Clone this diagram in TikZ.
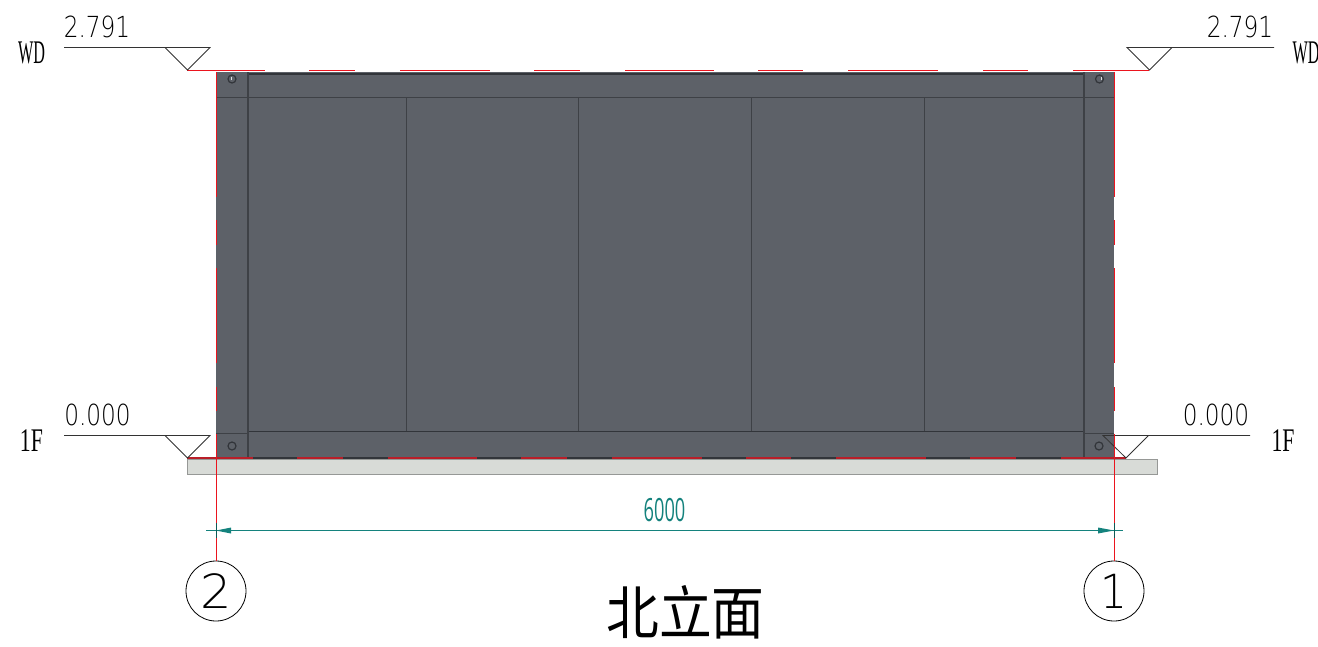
\documentclass[tikz,border=0pt]{standalone}
\usepackage{fontspec}
\usepackage{graphicx}
\setmainfont{DejaVu Sans ExtraLight}
\newfontfamily\cjk{Noto Sans CJK SC}
\newfontfamily\serifcad{Liberation Serif}
\newfontfamily\dimfont{Open Sans}
\definecolor{panel}{RGB}{93,97,104}
\definecolor{edge}{RGB}{50,53,58}
\definecolor{softedge}{RGB}{62,65,70}
\definecolor{dimc}{RGB}{20,130,125}
\definecolor{slab}{RGB}{216,219,215}
\definecolor{slabedge}{RGB}{150,152,150}
\definecolor{axisred}{RGB}{235,20,30}
\definecolor{darkred}{RGB}{185,30,40}
\tikzset{
  panelline/.style={draw=softedge,line width=1.1pt},
  redline/.style={draw=axisred,line width=1pt},
  redbase/.style={draw=darkred,line width=1.3pt},
  axisline/.style={draw=axisred,line width=1pt},
  levelline/.style={draw=black!80,line width=0.8pt},
  levelnum/.style={inner sep=0pt,anchor=south,font=\fontsize{29}{29}\selectfont},
  levelname/.style={inner sep=0pt,font=\serifcad\fontsize{33}{33}\selectfont},
  axisbubble/.style={circle,draw=black,line width=0.8pt,minimum size=60pt,inner sep=0pt,font=\fontsize{47}{47}\selectfont},
  bolt/.style={circle,draw=edge,line width=1.2pt,fill=panel,minimum width=7pt,minimum height=8pt,inner sep=0pt},
  dimline/.style={draw=dimc,line width=1pt}
}
\newcommand{\thinx}[1]{\scalebox{0.8}[1]{#1}}
\newcommand{\wdx}[1]{\scalebox{0.49}[1]{#1}}
\newcommand{\ffx}[1]{\scalebox{0.66}[1]{#1}}
\begin{document}
\begin{tikzpicture}[x=1pt,y=-1pt]
\useasboundingbox (0,0) rectangle (1318,646);
% slab
\node[draw=slabedge,fill=slab,line width=1.2pt,minimum width=970pt,minimum height=15pt,inner sep=0pt,anchor=north west] (slab) at (187,459) {};
% panel
\node[fill=panel,minimum width=898pt,minimum height=386pt,inner sep=0pt,anchor=north west] (wall) at (216,72) {};
\draw[draw=edge,line width=2pt] (248,74) -- (1084,74);
\draw[panelline] (216,97.5) -- (1114,97.5);
\draw[draw=edge,line width=1.6pt] (248,431.5) -- (1084,431.5);
\draw[panelline] (216,433.5) -- (248,433.5) (1084,433.5) -- (1114,433.5);
\draw[draw=edge,line width=1.2pt] (248,458) -- (1084,458);
\foreach \x in {248,1084} \draw[panelline] (\x,72) -- (\x,458);
\foreach \x in {406.5,578.5,751.5,924.5} \draw[panelline] (\x,97) -- (\x,431);
% bolts
\node[bolt] (b1) at (232,79) {};
\fill[white!80!panel] (230.5,77) rectangle (232,80);
\node[bolt] (b2) at (1099.5,79) {};
\fill[white!80!panel] (1100.5,77) rectangle (1102,80);
\node[bolt] (b3) at (232,446) {};
\node[bolt] (b4) at (1099,446) {};
% red top and bottom dashes
\foreach \a/\b in {187/265,309/355,400/490,534/580,625/714,758/803,848/938,983/1028,1073/1149}
  \draw[redline] (\a,70.5) -- (\b,70.5);
\foreach \a/\b in {187/253,297/343,388/477,521/567,612/702,746/791,836/926,970/1016,1061/1126}
  \draw[redbase] (\a,458) -- (\b,458);
% levels
\coordinate (tl1) at (64,47.5);\coordinate (tl2) at (210,47.5);\coordinate (tlp) at (187.5,70);
\coordinate (tr1) at (1274,47.5);\coordinate (tr2) at (1127,47.5);\coordinate (trp) at (1149.5,70);
\coordinate (bl1) at (64,435.5);\coordinate (bl2) at (210,435.5);\coordinate (blp) at (187.5,458);
\coordinate (br1) at (1250,435.5);\coordinate (br2) at (1103,435.5);\coordinate (brp) at (1126,458);
\draw[levelline] (tl1) -- (tl2) -- (tlp) -- ++(-22.5,-22.5);
\draw[levelline] (tr1) -- (tr2) -- (trp) -- ++(22.5,-22.5);
\draw[levelline] (bl1) -- (bl2) -- (blp) -- ++(-22.5,-22.5);
\draw[levelline] (br1) -- (br2) -- (brp) -- ++(22.5,-22.5);
\node[levelnum] (t1) at (97,38.5) {\thinx{2.791}};
\node[levelnum] (t2) at (1240,38.5) {\thinx{2.791}};
\node[levelnum] (t3) at (97.5,426) {\thinx{0.000}};
\node[levelnum] (t4) at (1216,426) {\thinx{0.000}};
\node[levelname] (n1) at (31.5,53) {\wdx{WD}};
\node[levelname] (n2) at (1306,53) {\wdx{WD}};
\node[levelname] (n3) at (31.5,441) {\ffx{1F}};
\node[levelname] (n4) at (1283,441) {\ffx{1F}};
% bubbles
\node[axisbubble] (ax2) at (216,591) {\scalebox{1.05}[1]{2}};
\node[axisbubble] (ax1) at (1114,591) {\scalebox{0.9}[1]{1}};
% axes: long dashes along the wall, then solid down to the bubbles
\foreach \a/\b in {72/197,220/245,268/363,387/411}{
  \draw[axisline] (216,\a) -- (216,\b);
  \draw[axisline] (1114,\a) -- (1114,\b);
}
\draw[axisline] (216,434) -- (ax2.north);
\draw[axisline] (1114,434) -- (ax1.north);
% dimension
\coordinate (d1) at (206,530.5);\coordinate (d2) at (1123,530.5);
\draw[dimline] (d1) -- (d2);
\fill[dimc] (216,530.5) -- (231,527.5) -- (231,533.5) -- cycle;
\fill[dimc] (1114,530.5) -- (1098,527.5) -- (1098,533.5) -- cycle;
\draw[dimc!70!black,line width=1pt] (216,523) -- (216,538) (1114,523) -- (1114,538);
\node[text=dimc,inner sep=0pt,font=\dimfont\fontsize{32}{32}\selectfont] (dim) at (664.5,510) {\scalebox{0.57}[1]{6000}};
% title
\node[inner sep=0pt,font=\cjk\fontsize{58}{58}\selectfont] (title) at (685.5,612) {\scalebox{0.91}[1]{北立面}};
\end{tikzpicture}
\end{document}
